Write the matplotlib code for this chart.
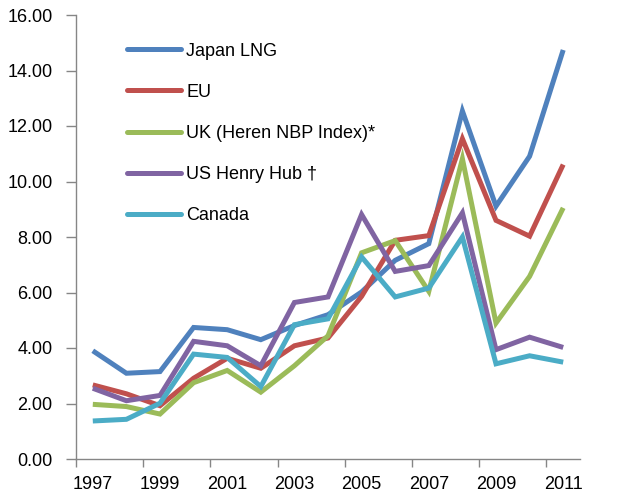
import matplotlib
matplotlib.use("Agg")
import matplotlib.pyplot as plt
import numpy as np

years = list(range(1997, 2012))
japan = [3.90, 3.09, 3.15, 4.74, 4.66, 4.30, 4.81, 5.20, 6.02, 7.16, 7.76, 12.54, 9.11, 10.91, 14.74]
eu = [2.67, 2.35, 1.92, 2.91, 3.63, 3.27, 4.08, 4.36, 5.86, 7.88, 8.05, 11.54, 8.60, 8.03, 10.61]
uk = [1.97, 1.89, 1.62, 2.75, 3.19, 2.41, 3.36, 4.44, 7.43, 7.87, 6.04, 10.82, 4.90, 6.58, 9.05]
us = [2.55, 2.10, 2.29, 4.24, 4.08, 3.36, 5.64, 5.84, 8.81, 6.76, 6.97, 8.87, 3.94, 4.39, 4.02]
canada = [1.37, 1.43, 2.01, 3.78, 3.66, 2.61, 4.84, 5.05, 7.28, 5.84, 6.16, 8.00, 3.43, 3.72, 3.49]

series = [
    ("Japan LNG", japan, "#4F81BD"),
    ("EU", eu, "#C0504D"),
    ("UK (Heren NBP Index)*", uk, "#9BBB59"),
    ("US Henry Hub \u2020", us, "#8064A2"),
    ("Canada", canada, "#4BACC6"),
]

plt.rcParams['font.family'] = ['Liberation Sans', 'DejaVu Sans']
fig = plt.figure(figsize=(6.23, 5.0), dpi=100)
ax = fig.add_axes([76/623, 1-459/500, (580-76)/623, (459-15)/500])

x = np.arange(len(years))
for name, vals, col in series:
    ax.plot(x, vals, color=col, lw=3.6, label=name, solid_joinstyle='miter', solid_capstyle='butt')

ax.set_xlim(-0.5, len(years) - 0.5)
ax.set_ylim(0, 16)
ax.set_yticks(np.arange(0, 16.01, 2))
ax.set_yticklabels([f"{v:.2f}" for v in np.arange(0, 16.01, 2)])

ax.set_xticks(x[::2])
ax.set_xticklabels([str(y) for y in years[::2]])
ax.set_xticks(np.arange(-0.5, len(years) - 1, 2), minor=True)
ax.tick_params(axis='x', which='major', length=0, pad=12, labelsize=13, colors='black')
ax.tick_params(axis='x', which='minor', length=6, width=1, color='#868686', direction='out')
ax.tick_params(axis='y', length=7, width=1, color='#868686', pad=10, labelsize=13, labelcolor='black')

for s in ['top', 'right']:
    ax.spines[s].set_visible(False)
for s in ['left', 'bottom']:
    ax.spines[s].set_color('#868686')
    ax.spines[s].set_linewidth(1)

leg = ax.legend(loc='upper left', bbox_to_anchor=(0.101, 0.938), frameon=False,
                fontsize=13, handlelength=3.0, handletextpad=0.3, labelspacing=1.34,
                borderpad=0, borderaxespad=0)
for h in leg.get_lines():
    h.set_linewidth(3.6)
    h.set_solid_capstyle('round')

fig.savefig("out.png", dpi=100)
